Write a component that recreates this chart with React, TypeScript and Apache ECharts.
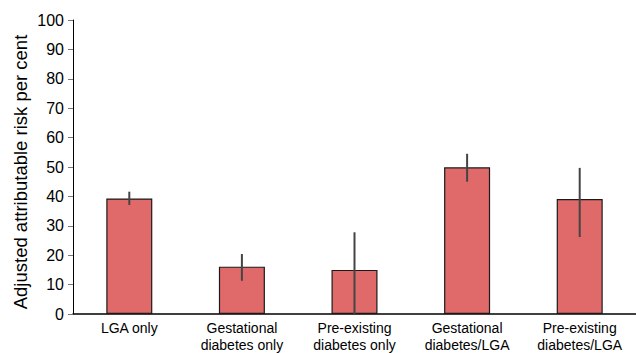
import React, { useEffect, useRef } from "react";
import * as echarts from "echarts";

const categories = [
  "LGA only",
  "Gestational\ndiabetes only",
  "Pre-existing\ndiabetes only",
  "Gestational\ndiabetes/LGA",
  "Pre-existing\ndiabetes/LGA",
];
const values = [39.3, 16.1, 15.0, 49.9, 39.1];
const errLow = [37.1, 11.3, 0, 45.0, 26.2];
const errHigh = [41.6, 20.4, 27.8, 54.5, 49.7];
const yAxisTitle = "Adjusted attributable risk per cent";

const FONT = "'Liberation Sans', Arial, Helvetica, sans-serif";

export default function App() {
  const ref = useRef<HTMLDivElement>(null);
  useEffect(() => {
    if (!ref.current) return;
    const chart = echarts.init(ref.current, undefined, { renderer: "svg" });
    chart.setOption({
      animation: false,
      backgroundColor: "#ffffff",
      grid: { left: 73, top: 20, bottom: 36, right: -7, containLabel: false },
      graphic: [
        {
          type: "text",
          x: 20,
          y: 172,
          rotation: Math.PI / 2,
          style: {
            text: yAxisTitle,
            fill: "#000",
            font: `18.5px ${FONT}`,
            textAlign: "center",
            textVerticalAlign: "middle",
          },
        },
      ],
      xAxis: {
        type: "category",
        data: categories,
        axisLine: { show: true, lineStyle: { color: "#000", width: 1.5 } },
        axisTick: { show: false },
        axisLabel: {
          color: "#000",
          fontFamily: FONT,
          fontSize: 14,
          lineHeight: 17,
          margin: 5,
          interval: 0,
        },
      },
      yAxis: {
        type: "value",
        min: 0,
        max: 100,
        interval: 10,
        axisLine: { show: true, lineStyle: { color: "#000", width: 1 } },
        axisTick: { show: true, length: 5, lineStyle: { color: "#777" } },
        splitLine: { show: false },
        axisLabel: { color: "#000", fontFamily: FONT, fontSize: 16, margin: 9 },
      },
      series: [
        {
          type: "bar",
          data: values,
          barWidth: 46,
          itemStyle: { color: "#E06A6A", borderColor: "#1a1a1a", borderWidth: 1.2 },
        },
        {
          type: "custom",
          data: categories.map((_, i) => [i, errLow[i], errHigh[i]]),
          renderItem: (params: any, api: any) => {
            const x = api.value(0);
            const lo = api.coord([x, api.value(1)]);
            const hi = api.coord([x, api.value(2)]);
            return {
              type: "line",
              shape: { x1: lo[0], y1: lo[1], x2: hi[0], y2: hi[1] },
              style: { stroke: "#444", lineWidth: 2 },
            };
          },
          z: 10,
        },
      ],
    });
    return () => chart.dispose();
  }, []);
  return (
    <div
      ref={ref}
      style={{ position: "fixed", left: 0, top: 0, width: 636, height: 353 }}
    />
  );
}
